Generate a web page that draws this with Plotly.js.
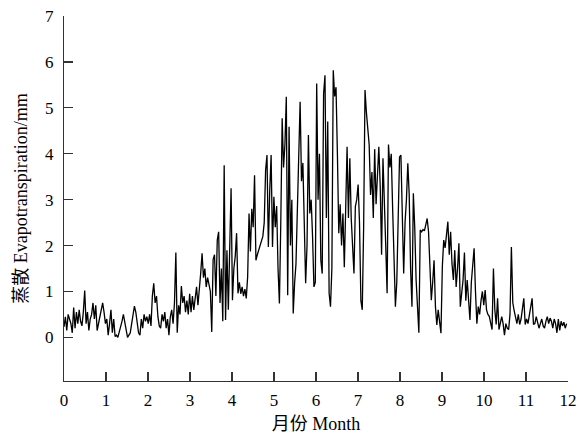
<!DOCTYPE html>
<html>
<head>
<meta charset="utf-8">
<script src="https://cdn.plot.ly/plotly-3.0.1.min.js"></script>
<style>html,body{margin:0;padding:0;background:#fff;}#chart{width:585px;height:434px;}</style>
</head>
<body>
<div id="chart"></div>
<script>
// Daily evapotranspiration (mm), grouped by month
var jan = [0.23,0.45,0.15,0.5,0.4,0.3,0.1,0.65,0.2,0.55,0.3,0.6,0.35,0.25,0.55,1.02,0.3,0.55,0.15,0.4,0.5,0.75,0.4,0.7,0.15,0.3,0.45,0.6,0.75,0.55,0.3];
var feb = [0.4,0.05,0.3,0.6,0.1,0.4,0.02,0.05,0.0,0.1,0.2,0.35,0.5,0.3,0.15,0.0,0.05,0.1,0.3,0.5,0.68,0.55,0.3,0.1,0.05,0.4,0.2,0.5,0.35,0.45];
var mar = [0.3,0.5,0.25,0.9,1.18,0.75,0.9,0.45,0.25,0.2,0.5,0.35,0.55,0.2,0.4,0.05,0.45,0.6,0.3,0.75,1.85,0.1,0.7,0.5,1.12,0.75,0.9,0.55,0.8,0.5,0.95];
var apr = [0.55,0.9,0.6,0.85,1.1,0.7,1.0,1.4,1.83,1.3,1.5,1.1,1.3,1.15,1.0,0.12,1.7,1.8,0.9,2.12,2.3,0.75,1.5,0.35,3.75,0.38,1.9,0.6,2.0,3.25];
var may = [0.81,1.5,1.76,2.27,0.96,1.2,0.95,1.1,0.9,1.05,0.85,1.32,2.7,1.87,2.8,2.4,3.53,1.68,1.8,1.9,2.0,2.1,2.2,2.5,3.64,3.97,1.97,3.2,3.97,1.97,3.06];
var jun = [2.4,2.86,1.5,0.74,2.5,4.77,3.7,4.2,5.24,0.92,4.59,2.0,3.0,0.52,1.18,1.6,2.77,4.0,5.13,3.4,3.8,2.5,1.18,2.0,4.41,2.7,3.0,2.2,1.1,1.2];
var jul = [5.53,3.0,4.0,1.68,1.39,5.3,5.71,2.6,4.7,0.96,0.67,1.5,5.82,5.25,5.45,4.0,2.27,2.9,2.0,2.7,1.53,2.8,4.15,2.6,3.9,2.6,2.0,1.39,2.85,3.0];
var aug = [3.33,2.5,0.8,0.6,2.4,5.39,4.9,4.6,4.2,3.1,3.6,2.6,4.1,2.9,3.5,4.15,3.3,1.8,3.9,3.1,2.0,0.96,4.2,3.7,4.0,2.8,1.5,0.67,1.2,2.4,3.93];
var sep = [3.97,2.8,1.39,2.5,3.0,3.79,3.1,1.5,0.67,3.14,2.4,1.25,0.6,0.1,2.34,2.3,2.35,2.32,2.45,2.59,2.3,1.5,0.81,1.2,1.68,0.67,0.27,0.6,0.35,0.09];
var oct = [1.55,2.12,1.95,2.2,2.52,1.8,2.3,1.6,1.25,1.9,1.1,1.5,2.05,0.67,1.0,1.25,1.85,0.8,1.25,0.9,0.38,1.2,1.5,1.94,1.0,0.3,0.67,0.5,0.8,1.0];
var nov = [0.7,1.03,0.6,0.5,0.46,0.3,0.17,1.5,0.6,0.28,0.85,0.17,0.3,0.45,0.3,0.05,0.3,0.2,0.17,0.5,1.97,0.76,0.58,0.45,0.3,0.5,0.28,0.4,0.6,0.85,0.28];
var dec = [0.4,0.3,0.5,0.6,0.85,0.28,0.3,0.45,0.35,0.2,0.3,0.4,0.25,0.2,0.35,0.45,0.3,0.42,0.35,0.2,0.4,0.3,0.1,0.4,0.15,0.35,0.25,0.33,0.2,0.3];

var xTicks = [0,1,2,3,4,5,6,7,8,9,10,11,12];
var yTicks = [0,1,2,3,4,5,6,7];

var et = [].concat(jan,feb,mar,apr,may,jun,jul,aug,sep,oct,nov,dec);
var month = et.map(function(v,i){ return i*12/et.length; });

var fontFam = '"Liberation Serif", "Times New Roman", "Noto Sans CJK SC", serif';
var axisCol = '#333';

Plotly.newPlot('chart', [{
  x: month, y: et, type: 'scatter', mode: 'lines',
  line: {color: '#000', width: 1.3}, hoverinfo: 'skip'
}], {
  width: 585, height: 434,
  margin: {l: 64, r: 17, t: 16, b: 53},
  paper_bgcolor: '#fff', plot_bgcolor: '#fff',
  showlegend: false,
  font: {family: fontFam, size: 17, color: '#000'},
  xaxis: {
    range: [0, 12], tickvals: xTicks, ticktext: xTicks.map(String),
    showgrid: false, zeroline: false, showline: true, linecolor: axisCol, linewidth: 1.2,
    ticks: 'inside', ticklen: 9, tickcolor: axisCol, tickwidth: 1.2,
    ticklabelstandoff: 3,
    tickfont: {family: fontFam, size: 17, color: '#000'},
    title: {text: '月份 Month', font: {family: fontFam, size: 18, color: '#000'}, standoff: 10}
  },
  yaxis: {
    range: [-0.95, 7], tickvals: yTicks, ticktext: yTicks.map(String),
    showgrid: false, zeroline: false, showline: true, linecolor: axisCol, linewidth: 1.2,
    ticks: 'inside', ticklen: 9, tickcolor: axisCol, tickwidth: 1.2,
    ticklabelstandoff: 6,
    tickfont: {family: fontFam, size: 17, color: '#000'},
    title: {text: '蒸散 Evapotranspiration/mm', font: {family: fontFam, size: 18, color: '#000'}, standoff: 12}
  }
}, {staticPlot: true});
</script>
</body>
</html>
